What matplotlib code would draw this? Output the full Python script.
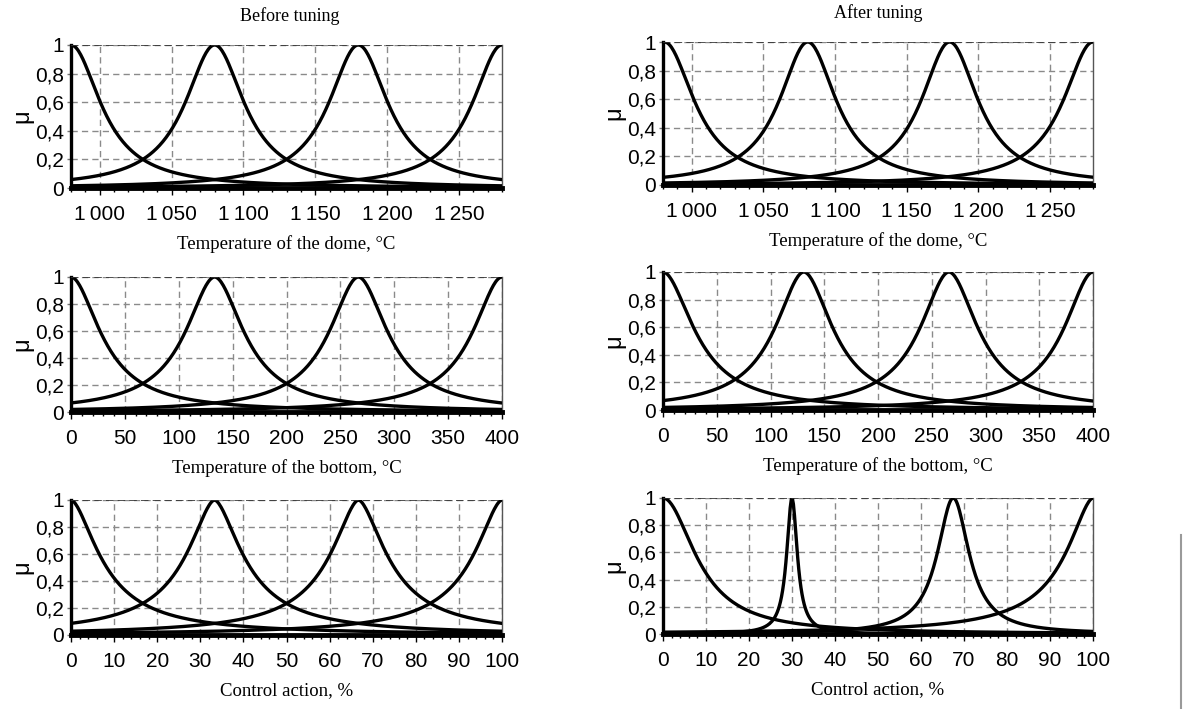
# Membership functions of the fuzzy controller, before and after tuning.

import numpy as np
import matplotlib as mpl
import matplotlib.pyplot as plt
from matplotlib.ticker import FuncFormatter, MultipleLocator
from matplotlib.lines import Line2D

mpl.rcParams.update({
    "font.family": ["Liberation Sans", "DejaVu Sans"],
    "axes.edgecolor": "black",
    "xtick.color": "black",
    "ytick.color": "black",
})

# --- data: generalized bell terms (centre, width, slope) ---
dome_range = (980, 1280)
bottom_range = (0, 400)
control_range = (0, 100)

before_dome_centers = [980, 1080, 1180, 1280]
before_dome_widths = [25, 25, 25, 25]
before_dome_slopes = [1.0, 1.0, 1.0, 1.0]

before_bottom_centers = [0, 133.3, 266.7, 400]
before_bottom_widths = [33.3, 33.3, 33.3, 33.3]
before_bottom_slopes = [0.95, 0.95, 0.95, 0.95]

before_control_centers = [0, 33.3, 66.7, 100]
before_control_widths = [8.3, 8.3, 8.3, 8.3]
before_control_slopes = [0.85, 0.85, 0.85, 0.85]

after_dome_centers = [981, 1081, 1180, 1280]
after_dome_widths = [25, 24, 24, 25]
after_dome_slopes = [1.0, 1.0, 1.0, 1.0]

after_bottom_centers = [0, 131, 266, 400]
after_bottom_widths = [35, 33, 33, 33]
after_bottom_slopes = [0.95, 0.95, 0.95, 0.95]

after_control_centers = [0, 30, 67.5, 100]
after_control_widths = [9, 1.5, 4.5, 8]
after_control_slopes = [1.0, 1.0, 1.0, 0.85]

xlabels = ["Temperature of the dome, \u00b0C",
           "Temperature of the bottom, \u00b0C",
           "Control action, %"]
titles = ["Before tuning", "After tuning"]


def bell(x, c, a, b):
    return 1.0 / (1.0 + np.abs((x - c) / a) ** (2 * b))


W, H = 1191, 709
fig = plt.figure(figsize=(W / 100, H / 100), dpi=100)
fig.patch.set_facecolor("white")

# axes boxes in pixels: (left, top, right, bottom)
boxes = {
    (0, 0): (71, 45, 502, 188), (0, 1): (663, 42, 1093, 185),
    (1, 0): (71, 277, 502, 412), (1, 1): (663, 272, 1093, 410),
    (2, 0): (71, 500, 502, 635), (2, 1): (663, 498, 1093, 634),
}

panels = {
    (0, 0): (dome_range, before_dome_centers, before_dome_widths, before_dome_slopes, 50, 10),
    (1, 0): (bottom_range, before_bottom_centers, before_bottom_widths, before_bottom_slopes, 50, 10),
    (2, 0): (control_range, before_control_centers, before_control_widths, before_control_slopes, 10, 2),
    (0, 1): (dome_range, after_dome_centers, after_dome_widths, after_dome_slopes, 50, 10),
    (1, 1): (bottom_range, after_bottom_centers, after_bottom_widths, after_bottom_slopes, 50, 10),
    (2, 1): (control_range, after_control_centers, after_control_widths, after_control_slopes, 10, 2),
}

serif = "Liberation Serif"
thousands = FuncFormatter(lambda v, p: f"{int(round(v)):,}".replace(",", "\u2009"))
comma = FuncFormatter(lambda v, p: f"{v:g}".replace(".", ","))

for (r, c), (xr, centers, widths, slopes, major, minor) in panels.items():
    l, t, rr, b = boxes[(r, c)]
    ax = fig.add_axes([l / W, 1 - b / H, (rr - l) / W, (b - t) / H])

    x = np.linspace(xr[0], xr[1], 400)
    for cc, a, s in zip(centers, widths, slopes):
        ax.plot(x, bell(x, cc, a, s), color="black", linewidth=2.4, zorder=3)

    ax.set_xlim(*xr)
    ax.set_ylim(0, 1)
    ax.xaxis.set_major_locator(MultipleLocator(major))
    ax.xaxis.set_minor_locator(MultipleLocator(minor))
    ax.yaxis.set_major_locator(MultipleLocator(0.2))
    ax.xaxis.set_major_formatter(thousands)
    ax.yaxis.set_major_formatter(comma)

    ax.grid(True, which="major", color="#8a8a8a", linestyle=(0, (4.5, 3)), linewidth=1.0)
    ax.axhline(1, color="#333333", linestyle=(0, (4.5, 2.5)), linewidth=1.2, zorder=4)

    ax.spines["top"].set_visible(False)
    ax.spines["left"].set_linewidth(2.4)
    ax.spines["bottom"].set_linewidth(3.5)
    ax.spines["right"].set_linewidth(1.0)
    ax.spines["right"].set_color("#555555")

    ax.tick_params(axis="x", which="major", direction="out", length=5, width=1,
                   labelsize=15, pad=7)
    ax.tick_params(axis="x", which="minor", direction="out", length=3, width=1)
    ax.tick_params(axis="y", which="major", direction="out", length=3, width=1,
                   color="#777777", labelsize=15, pad=2)

    ax.set_xlabel(xlabels[r], fontfamily=serif, fontsize=13.5, labelpad=8)
    ax.set_ylabel("\u03bc", fontsize=17, labelpad=1)

# column titles
fig.text(290 / W, 1 - 16 / H, titles[0], fontfamily=serif, fontsize=13,
         ha="center", va="center")
fig.text(878 / W, 1 - 13 / H, titles[1], fontfamily=serif, fontsize=13,
         ha="center", va="center")

# thin grey scan edge at the lower right
fig.add_artist(Line2D([1181 / W, 1181 / W], [0, 1 - 535 / H],
                      color="#9a9a9a", linewidth=1.5))

fig.savefig("out.png", dpi=100)
